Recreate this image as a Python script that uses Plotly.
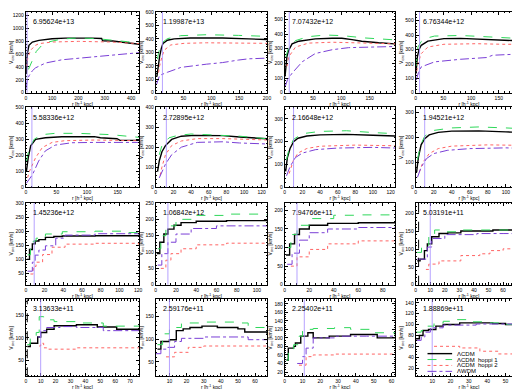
import plotly.graph_objects as go

W, H = 520, 389

panel_labels = ["6.95624e+13", "1.19987e+13", "7.07432e+12", "6.76344e+12",
                "5.58336e+12", "2.72895e+12", "2.16648e+12", "1.94521e+12",
                "1.45236e+12", "1.06842e+12", "7.94766e+11", "5.03191e+11",
                "3.13633e+11", "2.59176e+11", "2.25402e+11", "1.88869e+11"]

series_names = ["\u039bCDM", "\u039bCDM  hoppi 1", "\u039bCDM  hoppi 2", "\u039bWDM"]

# each series: (r [h^-1 kpc], V_circ [km/s]) pairs
p01_lcdm = [(2,300),(6,610),(12,735),(25,785),(50,810),(100,835),(150,845),(200,848),(250,845),(288,840),(292,805),(330,800),(360,785),(400,770),(430,750)]
p01_hop1 = [(10,360),(20,450),(30,560),(40,640),(60,730),(85,785),(135,830),(200,850),(275,835),(325,810),(385,790),(430,770)]
p01_hop2 = [(3,400),(8,550),(19,660),(35,730),(50,760),(100,785),(200,795),(325,785),(430,760)]
p01_wdm = [(1,60),(5,180),(12,260),(25,340),(37,385),(75,460),(137,510),(200,535),(262,560),(325,585),(387,610),(430,620)]

p02_lcdm = [(2,120),(4,188),(7,271),(10,330),(13,367),(21,390),(33,400),(62,407),(120,407),(167,400),(200,395)]
p02_hop1 = [(3,250),(5,295),(10,367),(21,402),(45,424),(91,431),(149,426),(200,419)]
p02_hop2 = [(5,150),(7,200),(12,280),(16,319),(27,355),(51,367),(91,371),(149,371),(200,367)]
p02_wdm = [(1,57),(4,100),(7,129),(21,152),(45,188),(91,212),(120,224),(149,243),(167,252),(200,257)]

p03_lcdm = [(0.5,111),(2,200),(4,250),(7,289),(13,333),(25,351),(54,367),(84,371),(101,371),(119,362),(136,351),(166,340),(195,333)]
p03_hop1 = [(2,244),(4,280),(7,311),(19,355),(42,382),(72,393),(101,389),(142,373),(195,360)]
p03_hop2 = [(4,180),(7,244),(19,311),(42,338),(84,344),(142,340),(195,333)]
p03_wdm = [(1,44),(5,90),(13,133),(31,211),(54,267),(84,293),(113,307),(142,311),(195,315)]

p04_lcdm = [(0.5,133),(3,248),(6,300),(10,329),(22,358),(51,375),(81,377),(139,370),(166,363),(192,359)]
p04_hop1 = [(0.5,179),(4,317),(10,355),(16,375),(34,393),(81,397),(139,386),(192,375)]
p04_hop2 = [(2,150),(4,202),(10,271),(22,317),(51,336),(110,340),(157,336),(192,336)]
p04_wdm = [(1,87),(5,140),(10,179),(34,214),(81,232),(128,244),(139,260),(192,269)]

p05_lcdm = [(1,100),(4,185),(8,260),(16,300),(32,310),(59,317),(112,317),(122,310),(149,304),(154,294),(185,294)]
p05_hop1 = [(1,164),(6,249),(14,302),(27,330),(48,338),(85,338),(138,330),(185,313)]
p05_hop2 = [(3,60),(6,100),(16,185),(27,249),(43,281),(64,292),(112,296),(185,292)]
p05_wdm = [(1,25),(11,79),(21,164),(32,228),(48,264),(75,279),(112,281),(185,281)]

p06_lcdm = [(2,78),(4,132),(7,178),(11,209),(18,240),(29,256),(44,260),(76,259),(95,252),(109,248),(126,243)]
p06_hop1 = [(4,163),(7,209),(15,248),(25,260),(40,267),(58,264),(95,256),(126,243)]
p06_hop2 = [(5,60),(7,101),(11,163),(18,209),(29,232),(47,244),(76,244),(126,237)]
p06_wdm = [(4,47),(11,116),(18,163),(29,201),(47,225),(76,228),(95,222),(126,217)]

p07_lcdm = [(1,70),(3,130),(6,170),(10,200),(15,215),(25,225),(40,230),(70,232),(100,228),(125,225)]
p07_hop1 = [(2,120),(5,170),(10,210),(20,235),(40,245),(70,248),(100,240),(125,235)]
p07_hop2 = [(5,60),(10,120),(15,150),(25,170),(40,180),(80,185),(125,182)]
p07_wdm = [(2,50),(6,90),(12,130),(20,150),(35,165),(60,172),(100,175),(125,172)]

p08_lcdm = [(1,60),(3,120),(6,170),(10,195),(15,210),(25,220),(40,225),(70,226),(100,222),(118,220)]
p08_hop1 = [(2,110),(5,165),(10,205),(20,228),(40,238),(70,242),(100,238),(118,235)]
p08_hop2 = [(4,60),(8,100),(15,135),(25,155),(40,165),(80,170),(118,168)]
p08_wdm = [(2,40),(6,80),(12,115),(20,135),(35,148),(60,155),(100,158),(118,156)]

p09_lcdm = [(1,100),(4,135),(7,155),(10,165),(14,170),(21,178),(30,181),(39,183),(74,184),(121,184)]
p09_hop1 = [(2,116),(5,148),(8,165),(11,175),(21,190),(39,198),(74,200),(102,200),(110,195),(121,192)]
p09_hop2 = [(5,48),(8,75),(11,90),(18,117),(28,143),(42,154),(74,157),(98,157),(121,152)]
p09_wdm = [(2,58),(7,90),(10,115),(14,133),(21,148),(32,175),(42,186),(74,191),(121,186)]

p10_lcdm = [(1,95),(4,130),(8,155),(12,170),(18,182),(25,190),(40,194),(70,196),(110,195)]
p10_hop1 = [(2,110),(5,150),(10,180),(20,200),(40,212),(70,216),(110,212)]
p10_hop2 = [(5,50),(10,75),(15,95),(25,110),(40,122),(70,127),(110,126)]
p10_wdm = [(2,60),(6,95),(12,130),(20,155),(35,172),(60,180),(110,180)]

p11_lcdm = [(1,80),(4,110),(8,135),(12,150),(20,160),(35,165),(60,167),(90,165)]
p11_hop1 = [(2,100),(5,135),(10,160),(20,178),(40,187),(60,188),(90,184)]
p11_hop2 = [(5,50),(10,75),(20,95),(35,110),(60,118),(90,118)]
p11_wdm = [(2,55),(6,85),(12,120),(20,140),(35,150),(60,154),(90,153)]

p12_lcdm = [(1,67),(3,72),(6,96),(8,115),(11,135),(16,144),(22,146),(31,151),(53,154),(64,154),(73,151)]
p12_hop1 = [(1,91),(4,111),(9,140),(13,154),(18,149),(31,154),(53,154),(73,154)]
p12_hop2 = [(7,43),(9,58),(16,67),(31,82),(44,87),(51,96),(60,101),(73,106)]
p12_wdm = [(1,72),(4,72),(8,106),(11,130),(20,141),(42,144),(60,144),(73,151)]

p13_lcdm = [(1,81),(3,88),(6,88),(8,102),(10,112),(14,119),(19,127),(34,129),(46,129),(48,124),(61,119),(76,116)]
p13_hop1 = [(1,85),(3,99),(7,112),(9,147),(12,140),(19,136),(34,133),(52,126),(76,127)]
p13_hop2 = [(9,82),(10,88),(12,78),(14,75),(34,78),(76,78)]
p13_wdm = [(8,102),(10,116),(14,123),(23,125),(34,123),(52,116),(76,116)]

p14_lcdm = [(3,78),(5,95),(10,99),(14,119),(18,123),(22,126),(29,129),(38,126),(50,123),(54,116),(67,112)]
p14_hop1 = [(3,88),(6,112),(10,126),(17,136),(30,138),(50,136),(56,126),(67,126)]
p14_hop2 = [(8,61),(13,71),(21,82),(30,85),(67,85)]
p14_wdm = [(2,68),(5,78),(9,82),(13,95),(17,102),(30,105),(50,105),(56,99),(67,99)]

p15_lcdm = [(1,48),(2,76),(5,80),(6,88),(9,104),(13,112),(16,100),(25,104),(37,108),(52,100),(62,100)]
p15_hop1 = [(1,48),(2,72),(5,84),(8,104),(10,120),(16,122),(28,124),(37,120),(50,112),(62,104)]
p15_hop2 = [(8,36),(12,56),(16,60),(28,62),(62,62)]
p15_wdm = [(7,40),(10,56),(12,76),(16,100),(28,104),(46,104),(62,102)]

p16_lcdm = [(1,74),(3,80),(5,89),(8,91),(12,97),(16,100),(25,103),(34,103),(43,102),(50,100),(59,100)]
p16_hop1 = [(1,86),(4,89),(7,97),(11,103),(16,106),(21,109),(29,105),(39,103),(50,100),(59,100)]
p16_hop2 = [(11,60),(25,57),(36,51),(46,46),(59,44)]
p16_wdm = [(1,71),(4,77),(6,86),(9,94),(16,99),(34,101),(59,100)]

panel_series = [
    (p01_lcdm, p01_hop1, p01_hop2, p01_wdm), (p02_lcdm, p02_hop1, p02_hop2, p02_wdm),
    (p03_lcdm, p03_hop1, p03_hop2, p03_wdm), (p04_lcdm, p04_hop1, p04_hop2, p04_wdm),
    (p05_lcdm, p05_hop1, p05_hop2, p05_wdm), (p06_lcdm, p06_hop1, p06_hop2, p06_wdm),
    (p07_lcdm, p07_hop1, p07_hop2, p07_wdm), (p08_lcdm, p08_hop1, p08_hop2, p08_wdm),
    (p09_lcdm, p09_hop1, p09_hop2, p09_wdm), (p10_lcdm, p10_hop1, p10_hop2, p10_wdm),
    (p11_lcdm, p11_hop1, p11_hop2, p11_wdm), (p12_lcdm, p12_hop1, p12_hop2, p12_wdm),
    (p13_lcdm, p13_hop1, p13_hop2, p13_wdm), (p14_lcdm, p14_hop1, p14_hop2, p14_wdm),
    (p15_lcdm, p15_hop1, p15_hop2, p15_wdm), (p16_lcdm, p16_hop1, p16_hop2, p16_wdm),
]

# axis ranges and tick spacing
x_ranges = [(0,430),(0,200),(0,195),(0,192),(0,185),(0,126),(0,125),(0,118),
            (0,121),(0,110),(0,90),(0,73),(0,76),(2,67),(0,62),(1,59)]
y_ranges = [(0,1250),(0,600),(0,550),(0,560),(0,500),(0,400),(0,350),(0,320),
            (10,300),(0,250),(0,220),(0,230),(15,185),(18,188),(10,190),(5,146)]
x_dticks = [100,50,50,50,50,20,20,20,20,20,20,10,10,10,10,10]
y_dticks = [200,100,100,100,100,100,100,100,50,50,50,50,50,50,20,20]

# softening radius (lavender line) and inner cut (black dashed) per panel
soft_r = [5,12,8,7,10,12,10,10,9,12,10,10,10,10,11,10]
cut_r = [None,None,None,None,None,None,None,None,None,None,None,2,1,None,None,None]

colors = ["#000000", "#2fd75a", "#ff6464", "#7a3fd6"]
dashes = ["solid", "dash", "dot", "dashdot"]
widths = [1.4, 1.0, 1.0, 1.0]

col_left = [14, 146, 277, 410]
col_right = [129, 259, 389, 518]
row_top = [1, 98, 195, 293]
row_bot = [83, 179, 278, 371]

fig = go.Figure()
tick_font = dict(size=5, family="Liberation Sans", color="black")
title_font = dict(size=5, family="Liberation Sans", color="black")

for k in range(16):
    r, c = divmod(k, 4)
    ax = k + 1
    xa = "x" if ax == 1 else f"x{ax}"
    ya = "y" if ax == 1 else f"y{ax}"
    step = "linear" if r < 2 else "hv"
    for s, data in enumerate(panel_series[k]):
        fig.add_trace(go.Scatter(
            x=[p[0] for p in data], y=[p[1] for p in data], mode="lines",
            line=dict(color=colors[s], dash=dashes[s], width=widths[s], shape=step),
            xaxis=xa, yaxis=ya, showlegend=False, name=series_names[s]))
    common = dict(showline=True, linecolor="black", linewidth=1, mirror="ticks",
                  ticks="inside", ticklen=3, tickwidth=0.8, tickcolor="black",
                  minor=dict(ticks="inside", ticklen=1.5, tickcolor="black"),
                  showgrid=False, zeroline=False, tickfont=tick_font)
    fig.layout[f"xaxis{ax}"] = dict(
        common, domain=[col_left[c] / W, col_right[c] / W], anchor=ya,
        range=list(x_ranges[k]), dtick=x_dticks[k], tick0=0,
        title=dict(text="r [h<sup>-1</sup> kpc]", font=title_font, standoff=0))
    fig.layout[f"yaxis{ax}"] = dict(
        common, domain=[1 - row_bot[r] / H, 1 - row_top[r] / H], anchor=xa,
        range=list(y_ranges[k]), dtick=y_dticks[k], tick0=0,
        title=dict(text="V<sub>circ</sub> [km/s]", font=title_font, standoff=1))
    fig.add_annotation(xref=f"{xa} domain", yref=f"{ya} domain", x=0.05, y=0.88,
                       xanchor="left", yanchor="middle", showarrow=False,
                       text=panel_labels[k], font=dict(size=7, family="Liberation Sans", color="black"))
    fig.add_shape(type="line", xref=xa, yref=f"{ya} domain", x0=soft_r[k], x1=soft_r[k], y0=0, y1=1,
                  line=dict(color="#a58cff", width=0.8))
    if cut_r[k] is not None:
        fig.add_shape(type="line", xref=xa, yref=f"{ya} domain", x0=cut_r[k], x1=cut_r[k], y0=0, y1=1,
                      line=dict(color="black", width=1, dash="dash"))

# legend (drawn in the last panel)
leg_x0, leg_x1, leg_tx = 422, 447, 450
leg_rows = [348, 354, 360, 366]
for s in range(4):
    yy = 1 - leg_rows[s] / H
    fig.add_shape(type="line", xref="paper", yref="paper", x0=leg_x0 / W, x1=leg_x1 / W, y0=yy, y1=yy,
                  line=dict(color=colors[s], dash=dashes[s], width=widths[s]))
    fig.add_annotation(xref="paper", yref="paper", x=leg_tx / W, y=yy, xanchor="left", yanchor="middle",
                       showarrow=False, text=series_names[s],
                       font=dict(size=6, family="Liberation Sans", color="black"))

fig.update_layout(width=W, height=H, margin=dict(l=0, r=0, t=0, b=0),
                  paper_bgcolor="white", plot_bgcolor="white", showlegend=False)
fig.write_html("out.html")
